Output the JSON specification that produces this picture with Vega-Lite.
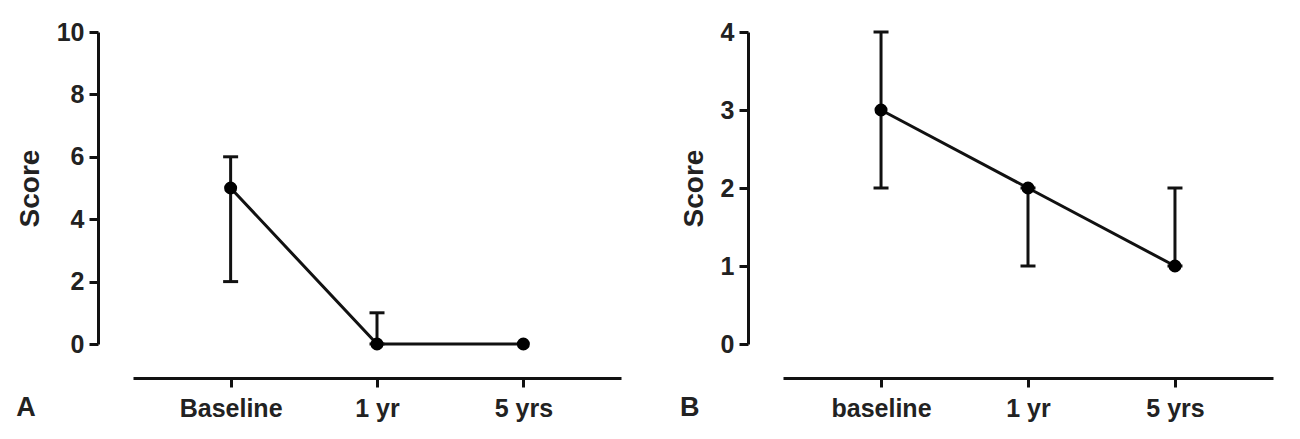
{
  "$schema": "https://vega.github.io/schema/vega-lite/v6.json",
  "padding": {"left": 16, "top": 20, "right": 5, "bottom": 5},
  "background": "white",
  "config": {
    "view": {"stroke": null},
    "font": "Liberation Sans",
    "concat": {"spacing": 59},
    "axis": {
      "grid": false,
      "domainColor": "#111",
      "domainWidth": 3,
      "tickColor": "#111",
      "tickWidth": 3,
      "tickSize": 9,
      "labelFont": "Liberation Sans",
      "labelFontWeight": "bold",
      "labelFontSize": 25,
      "labelColor": "#222",
      "titleFont": "Liberation Sans",
      "titleFontWeight": "bold",
      "titleFontSize": 28,
      "titleColor": "#222"
    },
    "title": {"font": "Liberation Sans", "fontWeight": "bold", "fontSize": 27, "color": "#222"}
  },
  "datasets": {
    "a": [
      {"time": "Baseline", "score": 5, "lo": 2, "hi": 6},
      {"time": "1 yr", "score": 0, "lo": 0, "hi": 1},
      {"time": "5 yrs", "score": 0, "lo": 0, "hi": 0}
    ],
    "b": [
      {"time": "baseline", "score": 3, "lo": 2, "hi": 4},
      {"time": "1 yr", "score": 2, "lo": 1, "hi": 2},
      {"time": "5 yrs", "score": 1, "lo": 1, "hi": 2}
    ]
  },
  "hconcat": [
    {
      "width": 488,
      "height": 312,
      "data": {"name": "a"},
      "title": {"text": "A", "orient": "bottom", "anchor": "start", "frame": "bounds", "offset": -26},
      "encoding": {
        "x": {"field": "time", "type": "ordinal", "sort": null,
          "scale": {"type": "point", "padding": 0.667},
          "axis": {"title": null, "labelAngle": 0, "offset": 34, "labelPadding": 9}}
      },
      "layer": [
        {
          "transform": [{"filter": "datum.hi > datum.lo"}],
          "mark": {"type": "rule", "strokeWidth": 3, "color": "#111"},
          "encoding": {
            "y": {"field": "lo", "type": "quantitative",
              "scale": {"domain": [0, 10], "nice": false},
              "axis": {"title": "Score", "values": [0, 2, 4, 6, 8, 10], "format": "d", "offset": 35, "labelPadding": 5, "titlePadding": 12}},
            "y2": {"field": "hi"}
          }
        },
        {
          "transform": [{"filter": "datum.hi > datum.lo"}],
          "mark": {"type": "tick", "thickness": 3, "size": 15, "color": "#111", "opacity": 1},
          "encoding": {"y": {"field": "lo", "type": "quantitative"}}
        },
        {
          "transform": [{"filter": "datum.hi > datum.lo"}],
          "mark": {"type": "tick", "thickness": 3, "size": 15, "color": "#111", "opacity": 1},
          "encoding": {"y": {"field": "hi", "type": "quantitative"}}
        },
        {
          "mark": {"type": "line", "strokeWidth": 3, "color": "#111"},
          "encoding": {"y": {"field": "score", "type": "quantitative"}}
        },
        {
          "mark": {"type": "point", "filled": true, "size": 170, "opacity": 1, "color": "#000"},
          "encoding": {"y": {"field": "score", "type": "quantitative"}}
        }
      ]
    },
    {
      "width": 490,
      "height": 312,
      "data": {"name": "b"},
      "title": {"text": "B", "orient": "bottom", "anchor": "start", "frame": "bounds", "offset": -26},
      "encoding": {
        "x": {"field": "time", "type": "ordinal", "sort": null,
          "scale": {"type": "point", "padding": 0.667},
          "axis": {"title": null, "labelAngle": 0, "offset": 34, "labelPadding": 9}}
      },
      "layer": [
        {
          "transform": [{"filter": "datum.hi > datum.lo"}],
          "mark": {"type": "rule", "strokeWidth": 3, "color": "#111"},
          "encoding": {
            "y": {"field": "lo", "type": "quantitative",
              "scale": {"domain": [0, 4], "nice": false},
              "axis": {"title": "Score", "values": [0, 1, 2, 3, 4], "format": "d", "offset": 35, "labelPadding": 5, "titlePadding": 12}},
            "y2": {"field": "hi"}
          }
        },
        {
          "transform": [{"filter": "datum.hi > datum.lo"}],
          "mark": {"type": "tick", "thickness": 3, "size": 15, "color": "#111", "opacity": 1},
          "encoding": {"y": {"field": "lo", "type": "quantitative"}}
        },
        {
          "transform": [{"filter": "datum.hi > datum.lo"}],
          "mark": {"type": "tick", "thickness": 3, "size": 15, "color": "#111", "opacity": 1},
          "encoding": {"y": {"field": "hi", "type": "quantitative"}}
        },
        {
          "mark": {"type": "line", "strokeWidth": 3, "color": "#111"},
          "encoding": {"y": {"field": "score", "type": "quantitative"}}
        },
        {
          "mark": {"type": "point", "filled": true, "size": 170, "opacity": 1, "color": "#000"},
          "encoding": {"y": {"field": "score", "type": "quantitative"}}
        }
      ]
    }
  ]
}
